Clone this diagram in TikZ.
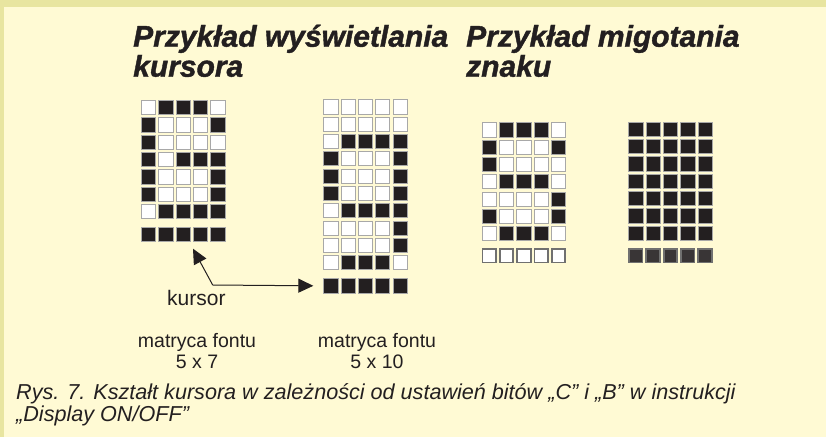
\documentclass[tikz,border=0pt]{standalone}
\usepackage{fontspec}
\setmainfont{Liberation Sans}
\newfontfamily\heavytitle{Liberation Sans Bold Italic}[FakeBold=1.3]
\usetikzlibrary{arrows.meta}
\definecolor{bgcream}{HTML}{FFFAD4}
\definecolor{bgband}{HTML}{E8E5A0}
\definecolor{ink}{HTML}{231F20}
\definecolor{cellline}{HTML}{A8A8A8}
\definecolor{curline}{HTML}{707070}
\tikzset{
  cellbase/.style={rectangle, inner sep=0pt, minimum size=14.2pt, line width=0.8pt, draw=cellline},
  offcell/.style={cellbase, fill=white},
  oncell/.style={cellbase, fill=ink},
  curon/.style={oncell},
  curoff/.style={rectangle, inner sep=0pt, minimum size=13.5pt, line width=1.8pt, draw=curline, fill=white},
  curdim/.style={rectangle, inner sep=0pt, minimum size=13.5pt, line width=1.8pt, draw=curline, fill=ink!90!white},
  titletext/.style={inner sep=0pt, anchor=base west, font=\heavytitle\fontsize{30}{30}\selectfont, text=ink},
  bodytext/.style={inner sep=0pt, anchor=base, font=\fontsize{19.5}{24}\selectfont, text=ink},
  captext/.style={inner sep=0pt, anchor=base west, font=\itshape\fontsize{21.6}{24}\selectfont, text=ink},
  arr/.style={line width=1pt, draw=ink, -{Triangle[length=15pt,width=14pt]}}
}
% #1 name, #2 x0, #3 y0, #4 rows, #5 cursor y, #6 cursor style
\newcommand\drawdotmatrix[6]{%
  \foreach \rowdata [count=\r] in {#4} {
    \foreach \v [count=\c] in \rowdata {
      \ifnum\v=1
        \node[oncell] (#1-\r-\c) at ({#2+(\c-1)*17.33+7.5},{#3+(\r-1)*17.33+7.5}) {};
      \else
        \node[offcell] (#1-\r-\c) at ({#2+(\c-1)*17.33+7.5},{#3+(\r-1)*17.33+7.5}) {};
      \fi
    }
  }
  \foreach \c in {1,...,5} {
    \node[#6] (#1-cur-\c) at ({#2+(\c-1)*17.33+7.5},{#5+7.5}) {};
  }
}
\begin{document}
\begin{tikzpicture}[x=1pt,y=-1pt]
\useasboundingbox (0,0) rectangle (826,437);
\fill[bgband] (0,0) rectangle (826,437);
\fill[bgcream] (4.3,7.3) rectangle (826,437);

\node[titletext] (t1a) at (133,46.7) {Przykład wyświetlania};
\node[titletext] (t1b) at (133,76.7) {kursora};
\node[titletext] (t2a) at (466,46.7) {Przykład migotania};
\node[titletext] (t2b) at (466,76.7) {znaku};

\drawdotmatrix{ma}{141}{100}{{0,1,1,1,0},{1,0,0,0,1},{1,0,0,0,0},{1,0,1,1,1},{1,0,0,0,1},{1,0,0,0,1},{0,1,1,1,1}}{226.7}{curon}
\drawdotmatrix{mb}{323.3}{99.3}{{0,0,0,0,0},{0,0,0,0,0},{0,1,1,1,1},{1,0,0,0,1},{1,0,0,0,1},{1,0,0,0,1},{0,1,1,1,1},{0,0,0,0,1},{0,0,0,0,1},{0,1,1,1,0}}{278.3}{curon}
\drawdotmatrix{mc}{481.7}{122.3}{{0,1,1,1,0},{1,0,0,0,1},{1,0,0,0,0},{0,1,1,1,0},{0,0,0,0,1},{1,0,0,0,1},{0,1,1,1,0}}{248.3}{curoff}
\drawdotmatrix{md}{628.3}{121.7}{{1,1,1,1,1},{1,1,1,1,1},{1,1,1,1,1},{1,1,1,1,1},{1,1,1,1,1},{1,1,1,1,1},{1,1,1,1,1}}{248.3}{curdim}

\node[bodytext, anchor=base west, font=\fontsize{21}{24}\selectfont] (kur) at (167,305) {kursor};
\coordinate (bend) at (212.7,285);
\draw[arr] (bend) -- ([yshift=-7pt]ma-cur-4.south west);
\draw[arr] (bend) -- ([xshift=-10pt]mb-cur-1.west);

\node[bodytext] (fa) at (197,347) {matryca fontu};
\node[bodytext] (sa) at (197,368) {5 x 7};
\node[bodytext] (fb) at (377,347) {matryca fontu};
\node[bodytext] (sb) at (377,368) {5 x 10};

\node[captext] (cap1) at (16,399) {Rys. 7. Kształt kursora w zależności od ustawień bitów „C” i „B” w instrukcji};
\node[captext] (cap2) at (16,421) {„Display ON/OFF”};
\end{tikzpicture}
\end{document}
